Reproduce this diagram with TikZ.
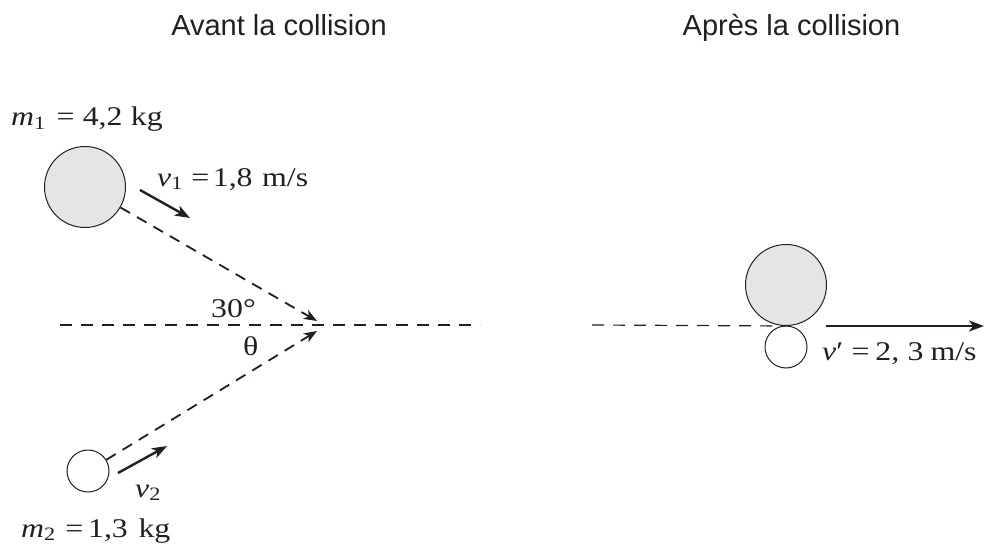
\documentclass[tikz,border=0pt]{standalone}
\usepackage{fontspec}
\setmainfont{Liberation Serif}
\newfontfamily\titlefont{Liberation Sans}
\usetikzlibrary{arrows.meta}
\definecolor{ink}{HTML}{231F20}
\newcommand\wide[1]{\scalebox{1.18}[1]{#1}}
\begin{document}
\begin{tikzpicture}[x=1pt,y=-1pt,
  bigball/.style={circle,draw=ink,line width=1pt,fill=gray!20,minimum size=81pt,inner sep=0pt},
  smallball/.style={circle,draw=ink,line width=1pt,fill=white,minimum size=42pt,inner sep=0pt},
  path/.style={draw=ink,line width=1.8pt,dash pattern=on 11pt off 8pt},
  guide/.style={draw=ink,line width=1.2pt,dash pattern=on 12pt off 9pt},
  tipd/.style={-{Stealth[length=13pt,width=10pt,inset=3.5pt]}},
  vel/.style={draw=ink,line width=2.4pt,-{Stealth[length=15pt,width=11pt,inset=4pt]}},
  lbl/.style={anchor=base west,inner sep=0pt,text=ink,font=\fontsize{27}{31}\selectfont},
  ttl/.style={anchor=base,inner sep=0pt,text=ink,font=\titlefont\fontsize{29}{34}\selectfont}]
\useasboundingbox (0,0) rectangle (987,548);
% titles
\node[ttl] (t1) at (279,36) {Avant la collision};
\node[ttl] (t2) at (791.5,36) {Après la collision};
% before
\coordinate (h1a) at (60,325);
\coordinate (h1b) at (480,325);
\draw[guide] (h1a) -- (h1b);
\node[bigball] (b1) at (85,187) {};
\node[smallball] (s1) at (88,471) {};
\coordinate (p1) at (317,321);
\coordinate (p2) at (317,331);
\draw[path,tipd] (b1) -- (p1);
\draw[path,tipd] (s1) -- (p2);
\coordinate (v1a) at (140,190);
\coordinate (v1b) at (190,218);
\draw[vel] (v1a) -- (v1b);
\coordinate (v2a) at (118,473);
\coordinate (v2b) at (167,446);
\draw[vel] (v2a) -- (v2b);
\node[lbl] (m1) at (11,126) {\wide{\textit{m}\textsubscript{1}\hspace{9pt}=\hspace{7pt}4,2\hspace{7pt}kg}};
\node[lbl] (lv1) at (157,186) {\wide{\textit{v}\textsubscript{1}\hspace{7pt}=\hspace{3pt}1,8\hspace{8pt}m/s}};
\node[lbl] (ang) at (211,317) {\wide{30°}};
\node[lbl] (th) at (243,355) {\wide{θ}};
\node[lbl] (lv2) at (135,497) {\wide{\textit{v}\textsubscript{2}}};
\node[lbl] (m2) at (21,537) {\wide{\textit{m}\textsubscript{2}\hspace{8pt}=\hspace{4pt}1,3\hspace{9pt}kg}};
% after
\node[bigball] (b2) at (786,285) {};
\node[smallball] (s2) at (786,347) {};
\coordinate (h2a) at (592,325);
\draw[guide] (h2a) -- (b2.south);
\coordinate (vpa) at (826,326);
\coordinate (vpb) at (984,326);
\draw[vel] (vpa) -- (vpb);
\node[lbl] (lvp) at (822,360) {\wide{\textit{v}′\hspace{7pt}=\hspace{5pt}2,\hspace{7pt}3\hspace{6pt}m/s}};
\end{tikzpicture}
\end{document}
